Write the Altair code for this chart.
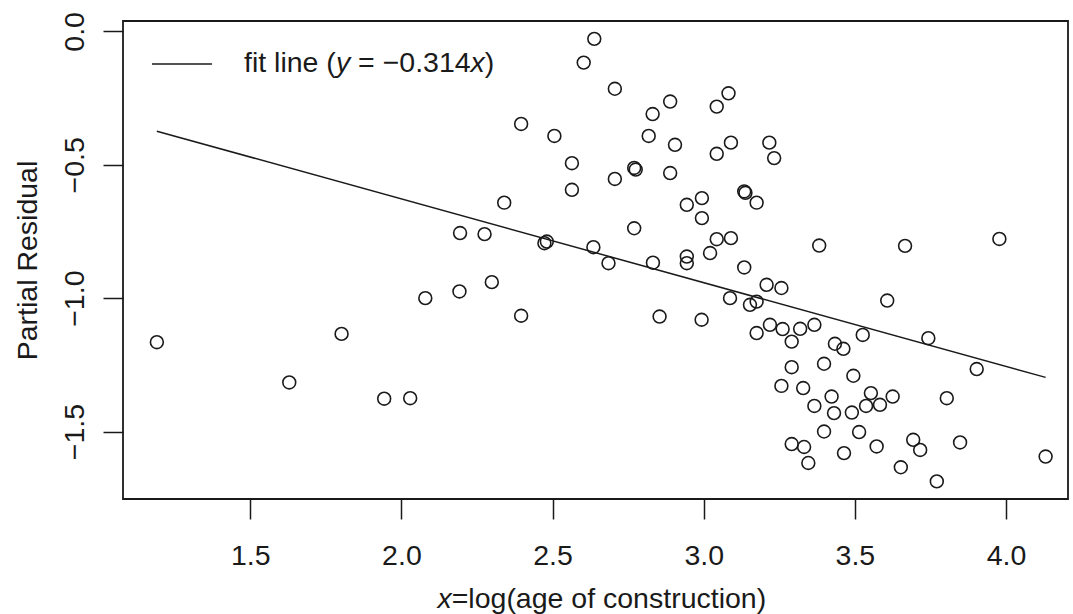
import altair as alt
import pandas as pd

# ---- data ----
x_vals = [1.191, 1.629, 1.802, 1.943, 2.029, 2.079, 2.192, 2.299, 2.396, 2.685,
          2.832, 2.854, 2.638, 2.603, 2.706, 2.831, 2.818, 2.396, 2.506, 2.564,
          2.564, 2.706, 2.770, 2.775, 2.340, 2.194, 2.275, 2.473, 2.481, 2.770,
          2.635, 2.889, 2.905, 3.082, 3.043, 3.090, 3.043, 3.217, 3.233, 2.889,
          3.134, 3.138, 3.175, 2.994, 2.944, 2.994, 3.043, 3.090, 3.021, 2.944,
          2.944, 3.134, 3.382, 3.666, 3.978, 3.743, 3.903, 3.804, 3.693, 3.716,
          3.848, 3.652, 3.771, 4.131, 2.993, 3.208, 3.257, 3.087, 3.153, 3.175,
          3.607, 3.175, 3.219, 3.261, 3.319, 3.366, 3.291, 3.526, 3.434, 3.462,
          3.291, 3.398, 3.495, 3.257, 3.329, 3.366, 3.423, 3.431, 3.490, 3.537,
          3.553, 3.583, 3.625, 3.398, 3.514, 3.291, 3.332, 3.346, 3.464, 3.572]
y_vals = [-1.165, -1.316, -1.134, -1.377, -1.375, -1.000, -0.975, -0.940, -1.066, -0.869,
          -0.867, -1.069, -0.028, -0.117, -0.215, -0.310, -0.392, -0.347, -0.392, -0.494,
          -0.594, -0.553, -0.512, -0.518, -0.642, -0.756, -0.760, -0.794, -0.788, -0.738,
          -0.809, -0.263, -0.425, -0.232, -0.282, -0.417, -0.459, -0.417, -0.475, -0.531,
          -0.600, -0.605, -0.642, -0.625, -0.650, -0.700, -0.779, -0.775, -0.831, -0.844,
          -0.869, -0.885, -0.803, -0.804, -0.778, -1.150, -1.266, -1.375, -1.531, -1.569,
          -1.541, -1.634, -1.687, -1.594, -1.081, -0.950, -0.962, -1.000, -1.025, -1.013,
          -1.009, -1.131, -1.100, -1.116, -1.115, -1.100, -1.163, -1.138, -1.171, -1.190,
          -1.259, -1.246, -1.291, -1.329, -1.337, -1.404, -1.369, -1.431, -1.429, -1.404,
          -1.356, -1.400, -1.369, -1.500, -1.502, -1.547, -1.558, -1.618, -1.581, -1.556]
slope = -0.314
x_ticks = [1.5, 2.0, 2.5, 3.0, 3.5, 4.0]
y_ticks = [0.0, -0.5, -1.0, -1.5]
x_domain = [1.079, 4.205]
y_domain = [-1.753, 0.039]
legend_parts = ["fit line (", "y", "= \u22120.314", "x", ")"]
legend_italic = [False, True, False, True, False]
x_title_parts = ["x", "=log(age of construction)"]
x_title_italic = [True, False]
y_title = "Partial Residual"

FONT = "Liberation Sans"
FS = 28.5
INK = "#1a1a1a"

pts = pd.DataFrame({"x": x_vals, "y": y_vals})
fx = [min(x_vals), max(x_vals)]
fit = pd.DataFrame({"x": fx, "y": [slope * v for v in fx]})

xscale = alt.Scale(domain=x_domain, nice=False, zero=False)
yscale = alt.Scale(domain=y_domain, nice=False, zero=False)

xaxis = alt.Axis(values=x_ticks, format=".1f", title="", grid=False, domain=False,
                 tickSize=20, tickWidth=1.5, tickColor=INK, labelPadding=22,
                 labelFont=FONT, labelFontSize=FS, labelColor=INK, labelBaseline="top",
                 labelFlush=False, labelOverlap=False)
yaxis = alt.Axis(values=y_ticks, format=".1f", title=y_title, grid=False, domain=False,
                 tickSize=20, tickWidth=1.5, tickColor=INK, labelPadding=14,
                 labelFont=FONT, labelFontSize=FS, labelColor=INK,
                 labelAngle=270, labelAlign="center", labelBaseline="bottom",
                 labelFlush=False, labelOverlap=False,
                 titleFont=FONT, titleFontSize=FS, titleFontWeight="normal", titleColor=INK,
                 titleAngle=270, titleBaseline="alphabetic", titleX=-87)

points = alt.Chart(pts).mark_point(shape="circle", filled=False, size=165,
                                   strokeWidth=1.6, color=INK, opacity=1).encode(
    x=alt.X("x:Q", scale=xscale, axis=xaxis),
    y=alt.Y("y:Q", scale=yscale, axis=yaxis),
)

line = alt.Chart(fit).mark_line(color=INK, strokeWidth=1.5).encode(
    x=alt.X("x:Q", scale=xscale),
    y=alt.Y("y:Q", scale=yscale),
)

leg_rule = alt.Chart(pd.DataFrame({"k": [0]})).mark_rule(color=INK, strokeWidth=1.5).encode(
    x=alt.value(29), x2=alt.value(89), y=alt.value(43)
)


def text_piece(txt, italic, xpos, ypos, baseline):
    return alt.Chart(pd.DataFrame({"t": [txt]})).mark_text(
        font=FONT, fontSize=FS, color=INK, align="left", baseline=baseline,
        fontStyle="italic" if italic else "normal"
    ).encode(x=alt.value(xpos), y=alt.value(ypos), text="t:N")


leg_x = [121, 212.9, 235.1, 347.6, 361.8]
legend_layers = [text_piece(t, it, xp, 42, "middle")
                 for t, it, xp in zip(legend_parts, legend_italic, leg_x)]

title_x = [314.5, 328.7]
title_layers = [text_piece(t, it, xp, 587, "alphabetic")
                for t, it, xp in zip(x_title_parts, x_title_italic, title_x)]

chart = alt.layer(line, points, leg_rule, *legend_layers, *title_layers).properties(
    width=945, height=478,
    autosize=alt.AutoSizeParams(type="none"),
    padding={"left": 123, "top": 21, "right": 5, "bottom": 115},
    background="white",
).configure_view(stroke=INK, strokeWidth=1.8)

chart.save("out.html", embed_options={"renderer": "svg", "actions": False})
